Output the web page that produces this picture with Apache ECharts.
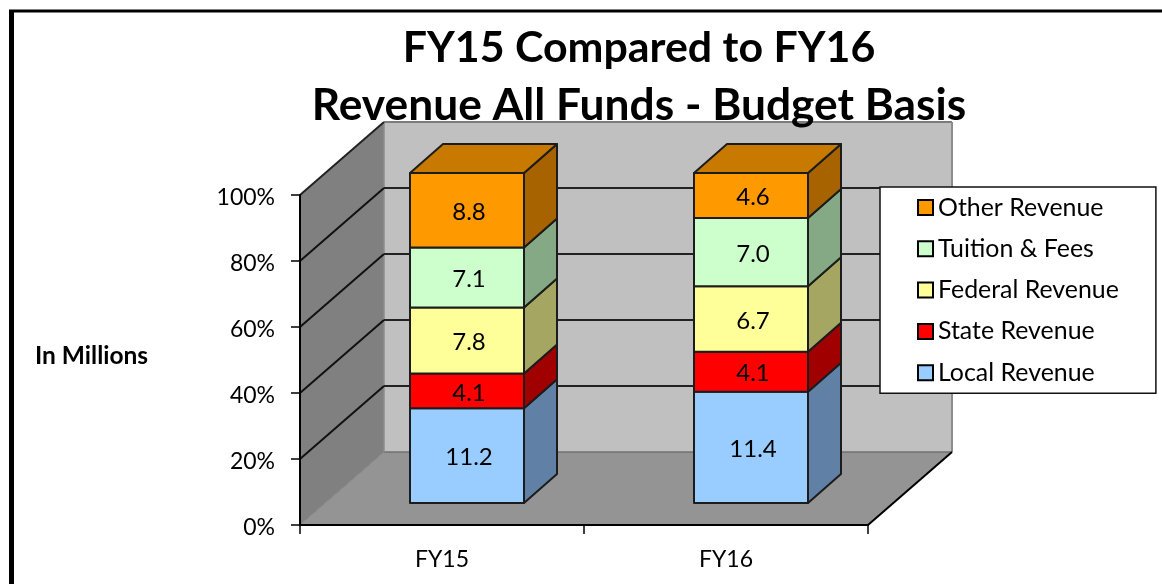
<!DOCTYPE html>
<html><head><meta charset="utf-8">
<style>html,body{margin:0;padding:0;background:#fff}#c{width:1162px;height:584px}</style>
<script src="https://cdn.jsdelivr.net/npm/echarts@6/dist/echarts.min.js"></script>
</head><body><div id="c"></div>
<script>
const categories = ['FY15', 'FY16'];
const seriesNames = ['Local Revenue', 'State Revenue', 'Federal Revenue', 'Tuition & Fees', 'Other Revenue'];
const localRevenue = [11.2, 11.4];
const stateRevenue = [4.1, 4.1];
const federalRevenue = [7.8, 6.7];
const tuitionFees = [7.1, 7.0];
const otherRevenue = [8.8, 4.6];
const yTicks = [0, 20, 40, 60, 80, 100];
const stacks = [localRevenue, stateRevenue, federalRevenue, tuitionFees, otherRevenue];
const fronts = ['#99ccff', '#ff0000', '#ffff99', '#ccffcc', '#ff9900'];
const sides = ['#6080a6', '#a00000', '#a6a663', '#85a885', '#a66300'];
const tops = ['#7aa3cc', '#cc0000', '#cccc7a', '#a3cca3', '#c87a00'];
const WALL = [84, -73], SHIFT = [25, -22], DEPTH = [33, -29], BAR_RATIO = 114 / 284, FONT = 'Lato, Carlito, sans-serif';
const EDGE = { stroke: '#1c1c1c', lineWidth: 2, lineJoin: 'round' };

function poly(points, fill, extra) {
  return { type: 'polygon', shape: { points }, style: Object.assign({ fill }, EDGE, extra || {}) };
}
function line(a, b, stroke, lineWidth) {
  return { type: 'line', shape: { x1: a[0], y1: a[1], x2: b[0], y2: b[1] }, style: { stroke, lineWidth } };
}
function renderWalls(params, api) {
  const r = params.coordSys, L = r.x, R = r.x + r.width, T = r.y, B = r.y + r.height;
  const [dx, dy] = WALL, none = { stroke: null, lineWidth: 0 };
  const ch = [
    poly([[L + dx, T + dy], [R + dx, T + dy], [R + dx, B + dy], [L + dx, B + dy]], '#c0c0c0', none),
    poly([[L, T], [L + dx, T + dy], [L + dx, B + dy], [L, B]], '#808080', none),
    poly([[L, B], [L + dx, B + dy], [R + dx, B + dy], [R, B]], '#949494', none),
    line([L + dx, T + dy], [R + dx, T + dy], '#7c7c7c', 2),
    line([R + dx, T + dy], [R + dx, B + dy], '#8c8c8c', 2),
    line([L + dx, B + dy], [R + dx, B + dy], '#707070', 1.5),
    line([L + dx, T + dy], [L + dx, B + dy], '#8c8c8c', 1.5),
    line([L, B], [L + dx, B + dy], '#858585', 1),
    line([R, B], [R + dx, B + dy], '#000', 2),
    line([L, T], [L + dx, T + dy], '#222', 2)
  ];
  yTicks.forEach(t => {
    if (t === 0 || t === 100) return;
    const y = api.coord([0, t])[1];
    ch.push(line([L, y], [L + dx, y + dy], '#111', 2));
    ch.push(line([L + dx, y + dy], [R + dx, y + dy], '#222', 2));
  });
  return { type: 'group', children: ch };
}
function renderSegment(s) {
  return function (params, api) {
    const i = api.value(0), total = stacks.reduce((a, v) => a + v[i], 0);
    const before = stacks.slice(0, s).reduce((a, v) => a + v[i], 0);
    const y0 = api.coord([i, before / total * 100]);
    const y1 = api.coord([i, (before + stacks[s][i]) / total * 100]);
    const w = api.size([1, 0])[0] * BAR_RATIO;
    const l = y0[0] - w / 2 + SHIFT[0], r = l + w, b = y0[1] + SHIFT[1], t = y1[1] + SHIFT[1];
    const [dx, dy] = DEPTH;
    const ch = [
      poly([[r, t], [r + dx, t + dy], [r + dx, b + dy], [r, b]], sides[s]),
      poly([[l, t], [r, t], [r, b], [l, b]], fronts[s])
    ];
    if (s === stacks.length - 1) ch.push(poly([[l, t], [l + dx, t + dy], [r + dx, t + dy], [r, t]], tops[s]));
    ch.push({ type: 'text', style: { x: (l + r) / 2 + 2, y: (t + b) / 2 + 2, text: stacks[s][i].toFixed(1), fill: '#000',
      font: '24px ' + FONT, align: 'center', verticalAlign: 'middle' } });
    return { type: 'group', children: ch };
  };
}
const barSeries = seriesNames.map((name, s) => ({
  name, type: 'custom', z: 5 + s, coordinateSystem: 'cartesian2d', silent: true,
  itemStyle: { color: fronts[s] }, renderItem: renderSegment(s),
  encode: { x: 0, y: 1 }, data: categories.map((c, i) => [i, stacks[s][i]])
}));
const titleStyle = { fontFamily: FONT, fontWeight: 'bold', lineHeight: 58, color: '#000' };
const chart = echarts.init(document.getElementById('c'), null, { renderer: 'canvas' });
chart.setOption({
  animation: false, backgroundColor: '#fff',
  title: { text: '{a|FY15 Compared to FY16}\n{b|Revenue All Funds - Budget Basis}', left: 634, top: 14, textAlign: 'center',
    textStyle: { fontFamily: FONT, fontWeight: 'bold', fontSize: 44.3, lineHeight: 58, color: '#000',
      rich: { a: Object.assign({ fontSize: 42.9 }, titleStyle), b: Object.assign({ fontSize: 44.3 }, titleStyle) } } },
  grid: { left: 300, right: 294, top: 195, bottom: 59, outerBoundsMode: 'none' },
  xAxis: { type: 'category', data: categories, z: 3,
    axisLine: { lineStyle: { color: '#000', width: 2 } },
    axisTick: { show: true, length: 9, alignWithLabel: false, lineStyle: { color: '#000', width: 1.5 } },
    axisLabel: { fontFamily: FONT, fontSize: 23, color: '#000', margin: 23 } },
  yAxis: { type: 'value', min: 0, max: 100, interval: 20, z: 3,
    splitLine: { show: false },
    axisLine: { show: true, lineStyle: { color: '#000', width: 2 } },
    axisTick: { show: true, length: 9, lineStyle: { color: '#000', width: 1.5 } },
    axisLabel: { margin: 25, formatter: v => '{v|' + v + '%}',
      rich: { v: { fontFamily: FONT, fontSize: 23, color: '#000', padding: [6, 0, 0, 0] } } } },
  legend: { left: 880, top: 187, orient: 'vertical', icon: 'rect', selectedMode: false, z: 20,
    data: seriesNames.slice().reverse(), itemWidth: 15, itemHeight: 15, itemGap: 16.3,
    padding: [8, 37, 8, 37], backgroundColor: '#fff', borderColor: '#111', borderWidth: 1.5,
    itemStyle: { borderColor: '#000', borderWidth: 2 },
    textStyle: { fontFamily: FONT, fontSize: 24.9, lineHeight: 20, color: '#000' } },
  graphic: [
    { type: 'rect', shape: { x: 9, y: 10, width: 5, height: 574 }, style: { fill: '#000' }, z: 30 },
    { type: 'rect', shape: { x: 9, y: 9.5, width: 1153, height: 3 }, style: { fill: '#000' }, z: 30 },
    { type: 'text', x: 35, y: 356, z: 30, style: { text: 'In Millions', fill: '#000',
      font: 'bold 24.5px ' + FONT, verticalAlign: 'middle', align: 'left' } }
  ],
  series: [{ type: 'custom', name: 'walls', z: 1, silent: true, coordinateSystem: 'cartesian2d',
    renderItem: renderWalls, encode: { x: 0, y: 1 }, data: [[0, 0]] }].concat(barSeries)
});
</script></body></html>
